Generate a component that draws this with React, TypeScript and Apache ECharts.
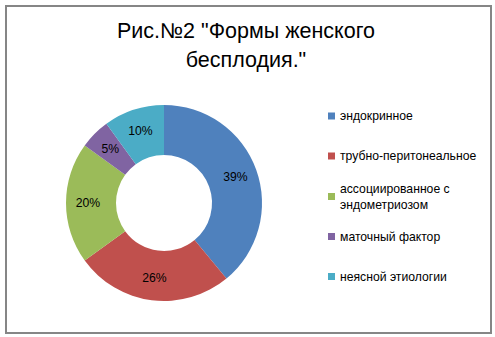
import React, { useEffect, useRef } from "react";
import * as echarts from "echarts";

const titleLines = ['Рис.№2 "Формы женского', 'бесплодия."'];
const categories = [
  "эндокринное",
  "трубно-перитонеальное",
  "ассоциированное с эндометриозом",
  "маточный фактор",
  "неясной этиологии",
];
const values = [39, 26, 20, 5, 10];
const colors = ["#4F81BD", "#C0504D", "#9BBB59", "#8064A2", "#4BACC6"];
const legendCenters = [116, 156, 196.5, 236.5, 276.5];

const FONT = "'Liberation Sans', Arial, sans-serif";

export default function App() {
  const ref = useRef<HTMLDivElement>(null);
  useEffect(() => {
    document.body.style.margin = "0";
    const chart = echarts.init(ref.current!, null, { renderer: "svg" });
    const legends = categories.map((name, i) => {
      const twoLine = name === "ассоциированное с эндометриозом";
      return {
        orient: "vertical",
        left: 328,
        top: twoLine ? legendCenters[i] - 24 : legendCenters[i] - 8,
        padding: 0,
        itemWidth: 7,
        itemHeight: 7,
        itemGap: 0,
        icon: "rect",
        selectedMode: false,
        formatter: (n: string) =>
          n === "ассоциированное с эндометриозом" ? "ассоциированное с\nэндометриозом" : n,
        textStyle: {
          fontFamily: FONT,
          fontSize: 12.2,
          color: "#000",
          lineHeight: 16,
          padding: twoLine ? [16, 0, 0, 0] : 0,
        },
        data: [name],
      };
    });
    chart.setOption({
      animation: false,
      color: colors,
      legend: legends,
      graphic: [
        {
          type: "rect",
          shape: { x: 6, y: 6, width: 485, height: 327 },
          style: { fill: "none", stroke: "#868686", lineWidth: 2 },
          silent: true,
        },
        ...titleLines.map((t, i) => ({
          type: "text",
          x: 246,
          y: 31 + i * 29,
          style: {
            text: t,
            align: "center",
            verticalAlign: "middle",
            fontFamily: FONT,
            fontSize: 21.5,
            fill: "#000",
          },
        })),
      ],
      series: [
        {
          type: "pie",
          center: [164, 203],
          radius: [48, 98],
          startAngle: 90,
          clockwise: true,
          label: {
            show: true,
            position: "inside",
            formatter: "{d}%",
            fontFamily: FONT,
            fontSize: 12.2,
            color: "#000",
          },
          labelLine: { show: false },
          emphasis: { disabled: true },
          data: categories.map((name, i) => ({ name, value: values[i] })),
        },
      ],
    });
    return () => chart.dispose();
  }, []);
  return (
    <div
      ref={ref}
      style={{ position: "absolute", left: 0, top: 0, width: 495, height: 337, background: "#fff" }}
    />
  );
}
